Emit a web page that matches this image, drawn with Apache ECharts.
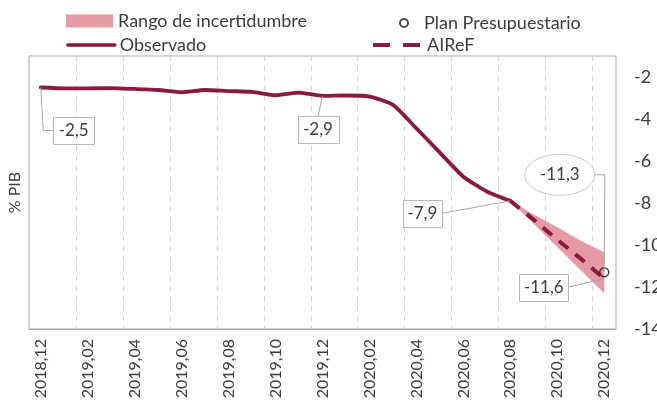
<!DOCTYPE html>
<html>
<head>
<meta charset="utf-8">
<script src="https://cdn.jsdelivr.net/npm/echarts@6/dist/echarts.min.js"></script>
<style>
  html, body { margin: 0; padding: 0; background: #fff; }
  #saldo-chart { width: 657px; height: 405px; }
</style>
</head>
<body>
<div id="saldo-chart"></div>
<script>
// meses (eje x)
const meses = ['2018,12', '2019,01', '2019,02', '2019,03', '2019,04', '2019,05', '2019,06',
  '2019,07', '2019,08', '2019,09', '2019,10', '2019,11', '2019,12', '2020,01', '2020,02',
  '2020,03', '2020,04', '2020,05', '2020,06', '2020,07', '2020,08', '2020,09', '2020,10',
  '2020,11', '2020,12'];

// % PIB
const observado = [-2.5, -2.54, -2.54, -2.53, -2.57, -2.62, -2.73, -2.62, -2.67, -2.71,
  -2.87, -2.74, -2.9, -2.88, -2.93, -3.33, -4.45, -5.6, -6.75, -7.45, -7.9,
  null, null, null, null];
const airef = [null, null, null, null, null, null, null, null, null, null, null, null,
  null, null, null, null, null, null, null, null, -7.9, -8.8, -9.75, -10.65, -11.6];
const rangoInf = [null, null, null, null, null, null, null, null, null, null, null, null,
  null, null, null, null, null, null, null, null, -7.9, -9.0, -10.1, -11.2, -12.3];
const rangoSup = [null, null, null, null, null, null, null, null, null, null, null, null,
  null, null, null, null, null, null, null, null, -7.9, -8.55, -9.15, -9.8, -10.35];
const planPresupuestario = [null, null, null, null, null, null, null, null, null, null,
  null, null, null, null, null, null, null, null, null, null, null, null, null, null, -11.3];

const granate = '#8a1a3c';
const rosa = '#e59aa4';
const gris = '#3c3c3c';
const fuente = 'Lato';

// etiquetas con linea guia: serie, indice y desplazamiento de la caja (px)
const notas = [
  { serie: 2, datos: observado, idx: 0, dx: 33, dy: 43, w: 41, h: 27, lado: 'left', codo: 10 },
  { serie: 2, datos: observado, idx: 12, dx: -4.5, dy: 34, w: 41, h: 27, lado: 'top', codo: 0 },
  { serie: 2, datos: observado, idx: 20, dx: -88, dy: 12.5, w: 39, h: 27, lado: 'right', codo: 0 },
  { serie: 3, datos: airef, idx: 24, dx: -60.5, dy: 8.5, w: 49, h: 27, lado: 'right', codo: 0 },
  { serie: 4, datos: planPresupuestario, idx: 24, dx: -44.5, dy: -97.5, w: 70, h: 41, lado: 'right', codo: 10, elipse: true }
];

const fmt = v => v.toFixed(1).replace('.', ',');

function legendItem(name, left, top, w, h, extra) {
  return Object.assign({
    data: [name],
    left: left,
    top: top,
    padding: 0,
    itemWidth: w,
    itemHeight: h,
    selectedMode: false,
    textStyle: { fontFamily: fuente, fontSize: 18, color: gris }
  }, extra || {});
}

const chart = echarts.init(document.getElementById('saldo-chart'));
const option = {
  animation: false,
  backgroundColor: '#fff',
  legend: [
    legendItem('Rango de incertidumbre', 66, 12, 47, 13, { icon: 'rect' }),
    legendItem('Observado', 66, 36, 47, 12, { lineStyle: { width: 3.5 }, itemStyle: { opacity: 0 } }),
    legendItem('Plan Presupuestario', 399, 14, 30, 8),
    legendItem('AIReF', 371, 36, 49, 12, { lineStyle: { width: 4, type: [17, 13] }, itemStyle: { opacity: 0 } })
  ],
  grid: {
    left: 29, right: 41, top: 56, bottom: 76,
    show: true, borderColor: '#a8a8a8', borderWidth: 1,
    outerBoundsMode: 'none'
  },
  xAxis: {
    type: 'category',
    data: meses,
    boundaryGap: true,
    axisLine: { lineStyle: { color: '#a8a8a8' } },
    axisTick: { show: false },
    axisLabel: { interval: 1, rotate: 90, margin: 10, fontFamily: fuente, fontSize: 16, color: gris },
    splitLine: { show: true, interval: 1, lineStyle: { color: '#d4d4d4', type: [5, 5] } }
  },
  yAxis: [{
    type: 'value',
    position: 'right',
    min: -14, max: -1, interval: 2,
    axisLine: { show: false },
    axisTick: { show: false },
    splitLine: { show: false },
    axisLabel: { showMaxLabel: false, margin: 18, fontFamily: fuente, fontSize: 18, color: gris }
  }, {
    type: 'value',
    position: 'left',
    name: '% PIB',
    nameLocation: 'middle',
    nameGap: 6,
    nameRotate: 90,
    nameTextStyle: { fontFamily: fuente, fontSize: 16, color: gris },
    axisLine: { show: false },
    axisTick: { show: false },
    axisLabel: { show: false },
    splitLine: { show: false }
  }],
  series: [
    {
      name: 'rango-base',
      type: 'line',
      stack: 'rango',
      stackStrategy: 'all',
      data: rangoInf,
      symbol: 'none',
      silent: true,
      lineStyle: { width: 0, opacity: 0 }
    },
    {
      name: 'Rango de incertidumbre',
      type: 'line',
      stack: 'rango',
      stackStrategy: 'all',
      data: rangoSup.map((v, i) => v == null ? null : +(v - rangoInf[i]).toFixed(2)),
      symbol: 'none',
      silent: true,
      itemStyle: { color: rosa },
      lineStyle: { width: 0, opacity: 0 },
      areaStyle: { color: rosa, opacity: 1 }
    },
    {
      name: 'Observado',
      type: 'line',
      data: observado,
      symbol: 'none',
      smooth: 0.2,
      itemStyle: { color: granate },
      lineStyle: { color: granate, width: 3.8, cap: 'round', join: 'round' }
    },
    {
      name: 'AIReF',
      type: 'line',
      data: airef,
      symbol: 'none',
      itemStyle: { color: granate },
      lineStyle: { color: granate, width: 4, type: [12, 9] }
    },
    {
      name: 'Plan Presupuestario',
      type: 'scatter',
      data: planPresupuestario,
      symbol: 'circle',
      symbolSize: 9,
      z: 5,
      itemStyle: { color: 'rgba(255,255,255,0)', borderColor: '#222', borderWidth: 1.5 }
    }
  ]
};
chart.setOption(option);

// cajas de etiquetas y lineas guia
function etiquetas() {
  const graficos = [];
  notas.forEach(n => {
    const v = n.datos[n.idx];
    const p = chart.convertToPixel({ seriesIndex: n.serie }, [n.idx, v]);
    const cx = p[0] + n.dx, cy = p[1] + n.dy;
    let ax = cx, ay = cy;
    if (n.lado === 'left') ax = cx - n.w / 2;
    if (n.lado === 'right') ax = cx + n.w / 2;
    if (n.lado === 'top') ay = cy - n.h / 2;
    const pts = [p];
    if (n.codo) pts.push([ax + (n.lado === 'left' ? -n.codo : n.codo), ay]);
    pts.push([ax, ay]);
    graficos.push({
      type: 'polyline', silent: true, z: 10,
      shape: { points: pts },
      style: { stroke: '#a6a6a6', lineWidth: 1, fill: null }
    });
    if (n.elipse) {
      graficos.push({
        type: 'ellipse', silent: true, z: 11,
        shape: { cx: cx, cy: cy, rx: n.w / 2, ry: n.h / 2 },
        style: { fill: '#fff', stroke: '#c4c4c4', lineWidth: 1 }
      });
    } else {
      graficos.push({
        type: 'rect', silent: true, z: 11,
        shape: { x: Math.round(cx - n.w / 2) + 0.5, y: Math.round(cy - n.h / 2) + 0.5, width: n.w, height: n.h },
        style: { fill: '#fff', stroke: '#b8b8b8', lineWidth: 1 }
      });
    }
    graficos.push({
      type: 'text', silent: true, z: 12,
      x: cx, y: cy,
      style: { text: fmt(v), fill: gris, font: '17px ' + fuente, align: 'center', verticalAlign: 'middle' }
    });
  });
  chart.setOption({ graphic: graficos });
}
etiquetas();
</script>
</body>
</html>
